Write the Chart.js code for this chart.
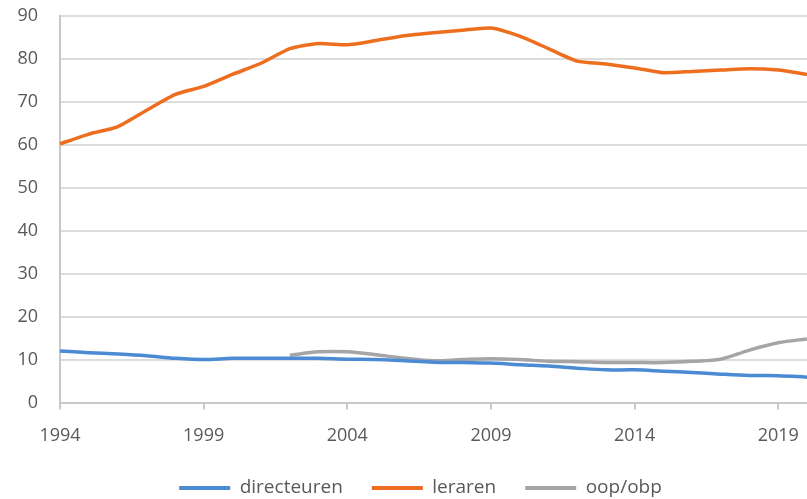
<!DOCTYPE html>
<html>
<head>
<meta charset="utf-8">
<script src="https://cdn.jsdelivr.net/npm/chart.js@4/dist/chart.umd.min.js"></script>
<style>
  html, body { margin: 0; padding: 0; background: #fff; }
  #wrap { width: 807px; height: 499px; position: relative; }
</style>
</head>
<body>
<div id="wrap"><canvas id="c" width="807" height="499"></canvas></div>
<script>
const years = ['1994','1995','1996','1997','1998','1999','2000','2001','2002','2003','2004','2005','2006','2007','2008','2009','2010','2011','2012','2013','2014','2015','2016','2017','2018','2019','2020'];
const directeuren = [12.0,11.6,11.3,10.9,10.3,10.0,10.3,10.3,10.3,10.3,10.1,10.0,9.7,9.4,9.3,9.2,8.8,8.5,8.0,7.6,7.6,7.3,7.0,6.6,6.3,6.25,5.9];
const leraren = [60.2,62.5,64.2,68.0,71.7,73.6,76.4,79.0,82.4,83.6,83.3,84.3,85.4,86.1,86.7,87.2,85.3,82.4,79.5,78.8,77.9,76.8,77.1,77.4,77.7,77.4,76.4];
const oopobp = [null,null,null,null,null,null,null,null,11.0,11.8,11.8,11.1,10.3,9.7,10.0,10.2,10.0,9.6,9.5,9.3,9.3,9.3,9.6,10.1,12.2,13.9,14.8];
const yTicks = [0,10,20,30,40,50,60,70,80,90];

const FONT = "'Open Sans', 'Noto Sans', sans-serif";
const TXT = '#595959';

// nudge the legend to the reference's position
const legendShift = {
  id: 'legendShift',
  afterLayout(chart) {
    const l = chart.legend;
    if (!l) return;
    l.left += 17; l.right += 17;
    l.top += 2; l.bottom += 2;
  }
};

new Chart(document.getElementById('c'), {
  type: 'line',
  data: {
    labels: years,
    datasets: [
      { label: 'directeuren', data: directeuren, borderColor: '#4A8BD3', backgroundColor: '#4A8BD3', borderWidth: 3.5, pointRadius: 0, pointHoverRadius: 0, pointHitRadius: 0, tension: 0.35 },
      { label: 'leraren', data: leraren, borderColor: '#EE6E1F', backgroundColor: '#EE6E1F', borderWidth: 3.5, pointRadius: 0, pointHoverRadius: 0, pointHitRadius: 0, tension: 0.2 },
      { label: 'oop/obp', data: oopobp, borderColor: '#A5A5A5', backgroundColor: '#A5A5A5', borderWidth: 3.5, pointRadius: 0, pointHoverRadius: 0, pointHitRadius: 0, tension: 0.35 }
    ]
  },
  plugins: [legendShift],
  options: {
    responsive: false,
    animation: false,
    layout: { autoPadding: false, padding: { left: 0, right: 0, top: 16, bottom: -6.5 } },
    plugins: {
      tooltip: { enabled: false },
      legend: {
        position: 'bottom',
        labels: {
          boxWidth: 51,
          boxHeight: 4,
          padding: 29,
          color: TXT,
          font: { family: FONT, size: 19 },
          generateLabels: (chart) => Chart.defaults.plugins.legend.labels.generateLabels(chart).map(l => Object.assign(l, { lineWidth: 0 }))
        }
      }
    },
    scales: {
      x: {
        type: 'category',
        offset: false,
        afterFit: (s) => { s.paddingLeft = 0; s.paddingRight = 0; s.height = 45; },
        border: { display: true, color: '#C8C8C8', width: 2 },
        grid: {
          drawOnChartArea: false,
          drawTicks: true,
          tickLength: 7,
          lineWidth: 2,
          color: (ctx) => (ctx.index % 5 === 0 ? '#C8C8C8' : 'rgba(0,0,0,0)')
        },
        ticks: {
          autoSkip: false,
          maxRotation: 0,
          padding: 16,
          color: TXT,
          font: { family: FONT, size: 18 },
          callback: function (v, i) { return i % 5 === 0 ? this.getLabelForValue(v) : ''; }
        }
      },
      y: {
        min: 0,
        max: 90,
        afterFit: (s) => { s.width = 60; s.paddingTop = 0; s.paddingBottom = 0; },
        afterBuildTicks: (s) => { s.ticks = yTicks.map(v => ({ value: v })); },
        border: { display: true, color: '#C8C8C8', width: 2 },
        grid: { drawTicks: false, color: '#DDDDDD', lineWidth: 2 },
        ticks: {
          padding: 22,
          color: TXT,
          font: { family: FONT, size: 18 }
        }
      }
    }
  }
});
</script>
</body>
</html>
